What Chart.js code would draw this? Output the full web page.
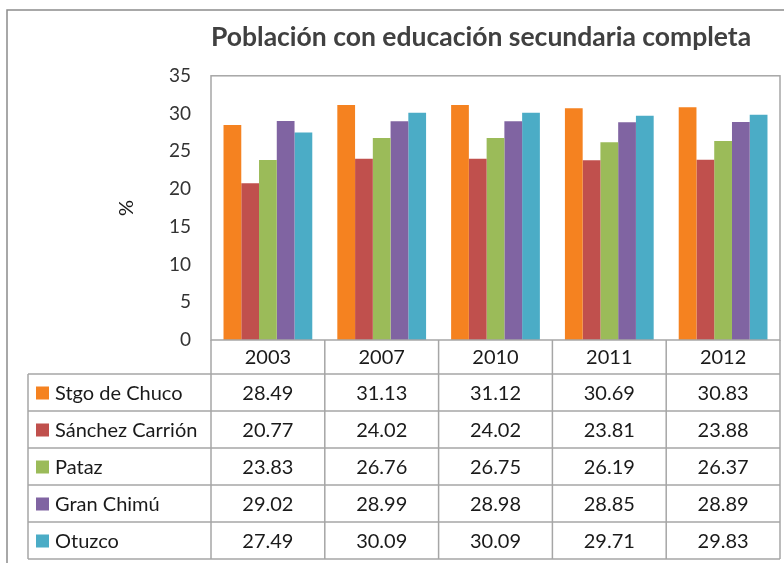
<!DOCTYPE html>
<html>
<head>
<meta charset="utf-8">
<script src="https://cdn.jsdelivr.net/npm/chart.js@4.4.0/dist/chart.umd.min.js"></script>
<style>
  html, body { margin: 0; padding: 0; background: #fff; }
  #wrap { width: 784px; height: 563px; }
</style>
</head>
<body>
<div id="wrap"><canvas id="chart" width="784" height="563"></canvas></div>
<script>
// data
const years = ['2003', '2007', '2010', '2011', '2012'];
const seriesNames = ['Stgo de Chuco', 'Sánchez Carrión', 'Pataz', 'Gran Chimú', 'Otuzco'];
const stgoDeChuco = [28.49, 31.13, 31.12, 30.69, 30.83];
const sanchezCarrion = [20.77, 24.02, 24.02, 23.81, 23.88];
const pataz = [23.83, 26.76, 26.75, 26.19, 26.37];
const granChimu = [29.02, 28.99, 28.98, 28.85, 28.89];
const otuzco = [27.49, 30.09, 30.09, 29.71, 29.83];
const yTicks = [0, 5, 10, 15, 20, 25, 30, 35];

const colors = ['#F58220', '#C0504D', '#9BBB59', '#8064A2', '#4BACC6'];
const allValues = [stgoDeChuco, sanchezCarrion, pataz, granChimu, otuzco];
const fontName = 'Lato, "Open Sans", sans-serif';
const gridGray = '#A6A6A6';

// frame, plot border and the data table under the axis
const tablePlugin = {
    id: 'tablePlugin',
    beforeDraw(chart){
        const ctx = chart.ctx;
        ctx.save();
        ctx.strokeStyle = '#8C8C8C';
        ctx.lineWidth = 1.5;
        ctx.beginPath();
        ctx.moveTo(7, 563);
        ctx.lineTo(7, 10);
        ctx.lineTo(784, 10);
        ctx.stroke();
        ctx.restore();
    },
    afterDraw(chart){
        const ctx = chart.ctx;
        const area = chart.chartArea;
        const x = chart.scales.x;
        const band = (area.right - area.left) / years.length;
        const legendLeft = 28;
        const headerTop = area.bottom;
        const rowTops = [374, 411, 448, 485, 522, 559];

        ctx.save();
        ctx.strokeStyle = gridGray;
        ctx.lineWidth = 1.5;
        ctx.strokeRect(area.left, area.top, area.right - area.left, area.bottom - area.top);

        ctx.beginPath();
        // column lines
        for(let i = 0; i <= years.length; i++){
            const px = area.left + i * band;
            ctx.moveTo(px, headerTop);
            ctx.lineTo(px, rowTops[rowTops.length - 1]);
        }
        ctx.moveTo(legendLeft, rowTops[0]);
        ctx.lineTo(legendLeft, rowTops[rowTops.length - 1]);
        // row lines
        rowTops.forEach(y => {
            ctx.moveTo(legendLeft, y);
            ctx.lineTo(area.right, y);
        });
        ctx.stroke();

        ctx.fillStyle = '#1A1A1A';
        ctx.font = '20px ' + fontName;
        ctx.textBaseline = 'middle';
        ctx.textAlign = 'center';
        years.forEach((yr, i) => {
            ctx.fillText(yr, x.getPixelForValue(i), (headerTop + rowTops[0]) / 2 + 1);
        });

        seriesNames.forEach((name, r) => {
            const cy = (rowTops[r] + rowTops[r + 1]) / 2 + 1;
            ctx.fillStyle = colors[r];
            ctx.fillRect(36, cy - 7, 13, 13);
            ctx.fillStyle = '#1A1A1A';
            ctx.textAlign = 'left';
            ctx.fillText(name, 55, cy);
            ctx.textAlign = 'center';
            allValues[r].forEach((v, i) => {
                ctx.fillText(v.toFixed(2), x.getPixelForValue(i), cy);
            });
        });
        ctx.restore();
    }
};

const datasets = seriesNames.map((name, i) => ({
    label: name,
    data: allValues[i],
    backgroundColor: colors[i],
    borderWidth: 0
}));

new Chart(document.getElementById('chart'), {
    type: 'bar',
    data: { labels: years, datasets: datasets },
    options: {
        responsive: false,
        animation: false,
        layout: { padding: { left: 100, right: 4, top: 14, bottom: 223 } },
        plugins: {
            legend: { display: false },
            tooltip: { enabled: false },
            title: {
                display: true,
                fullSize: false,
                align: 'start',
                text: 'Población con educación secundaria completa',
                color: '#404040',
                font: { family: fontName, size: 26.5, weight: 'bold' },
                padding: { top: 8, bottom: 22 }
            }
        },
        datasets: {
            bar: { categoryPercentage: 0.78, barPercentage: 1.0 }
        },
        scales: {
            x: { display: false },
            y: {
                min: 0,
                max: 35,
                afterFit(scale){ scale.width = 111; },
                afterBuildTicks(scale){ scale.ticks = yTicks.map(v => ({ value: v })); },
                grid: { display: false, drawTicks: false },
                border: { display: false },
                ticks: {
                    color: '#333333',
                    padding: 20,
                    font: { family: fontName, size: 19 }
                },
                title: {
                    display: true,
                    text: '%',
                    color: '#1A1A1A',
                    font: { family: fontName, size: 20 },
                    padding: { top: 15, bottom: 0 }
                }
            }
        }
    },
    plugins: [tablePlugin]
});
</script>
</body>
</html>
